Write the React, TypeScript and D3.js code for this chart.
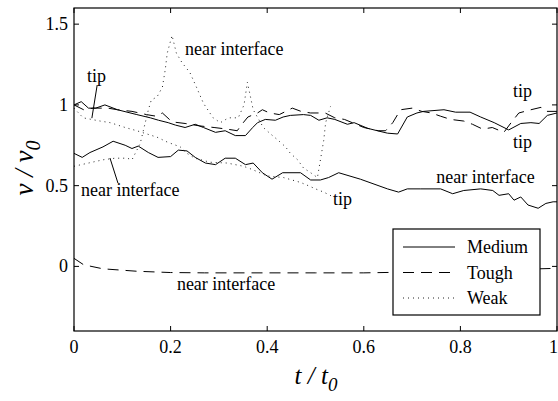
import React from "react";
import * as d3 from "d3";

// [t/t0, v/v0] pairs
const mediumTip: [number, number][] = [
  [0, 1.0], [0.015, 1.02], [0.03, 0.98], [0.045, 0.98], [0.064, 1.0], [0.09, 0.97],
  [0.13, 0.94], [0.158, 0.92], [0.175, 0.905], [0.195, 0.89], [0.21, 0.875], [0.23, 0.86],
  [0.251, 0.88], [0.268, 0.86], [0.293, 0.83], [0.313, 0.84], [0.334, 0.81], [0.355, 0.81],
  [0.37, 0.86], [0.38, 0.89], [0.396, 0.91], [0.417, 0.905], [0.433, 0.925], [0.448, 0.935],
  [0.475, 0.94], [0.49, 0.935], [0.507, 0.905], [0.524, 0.92], [0.54, 0.91], [0.566, 0.88],
  [0.58, 0.89], [0.608, 0.855], [0.628, 0.84], [0.649, 0.825], [0.67, 0.82], [0.69, 0.925],
  [0.71, 0.95], [0.724, 0.96], [0.766, 0.97], [0.79, 0.955], [0.82, 0.955], [0.842, 0.925],
  [0.87, 0.89], [0.9, 0.845], [0.925, 0.885], [0.946, 0.89], [0.963, 0.885], [0.98, 0.935],
  [1.0, 0.95],
];

const mediumInterface: [number, number][] = [
  [0, 0.7], [0.017, 0.675], [0.033, 0.705], [0.06, 0.74], [0.081, 0.775], [0.106, 0.75],
  [0.12, 0.73], [0.133, 0.745], [0.154, 0.705], [0.174, 0.675], [0.2, 0.68], [0.216, 0.72],
  [0.234, 0.715], [0.251, 0.675], [0.272, 0.64], [0.293, 0.63], [0.313, 0.67], [0.334, 0.67],
  [0.355, 0.63], [0.371, 0.64], [0.39, 0.58], [0.41, 0.54], [0.432, 0.58], [0.469, 0.58],
  [0.49, 0.535], [0.51, 0.535], [0.527, 0.55], [0.548, 0.58], [0.593, 0.54], [0.649, 0.48],
  [0.672, 0.46], [0.69, 0.48], [0.718, 0.48], [0.759, 0.48], [0.784, 0.45], [0.807, 0.47],
  [0.842, 0.48], [0.867, 0.47], [0.88, 0.44], [0.9, 0.45], [0.911, 0.41], [0.925, 0.43],
  [0.94, 0.38], [0.961, 0.36], [0.977, 0.39], [0.992, 0.4], [1.0, 0.4],
];

const toughTip: [number, number][] = [
  [0, 1.0], [0.02, 0.97], [0.04, 0.98], [0.07, 0.98], [0.09, 0.97], [0.12, 0.96],
  [0.15, 0.94], [0.17, 0.93], [0.183, 0.95], [0.203, 0.895], [0.23, 0.885], [0.26, 0.87],
  [0.29, 0.86], [0.317, 0.85], [0.338, 0.84], [0.345, 0.87], [0.36, 0.925], [0.38, 0.95],
  [0.39, 0.97], [0.405, 0.95], [0.425, 0.94], [0.452, 0.98], [0.47, 0.96], [0.49, 0.95],
  [0.52, 0.95], [0.54, 0.92], [0.56, 0.91], [0.6, 0.86], [0.63, 0.84], [0.645, 0.84],
  [0.66, 0.89], [0.676, 0.97], [0.7, 0.98], [0.72, 0.96], [0.74, 0.95], [0.759, 0.93],
  [0.78, 0.91], [0.807, 0.9], [0.825, 0.88], [0.846, 0.85], [0.866, 0.86], [0.89, 0.83],
  [0.905, 0.89], [0.921, 0.95], [0.946, 0.97], [0.967, 0.985], [0.977, 0.96], [1.0, 0.96],
];

const toughInterface: [number, number][] = [
  [0, 0.05], [0.02, 0.01], [0.06, -0.015], [0.13, -0.03], [0.2, -0.038], [0.27, -0.04],
  [0.4, -0.04], [0.5, -0.04], [0.6, -0.04], [0.7, -0.035], [0.8, -0.03], [0.9, -0.02],
  [1.0, -0.012],
];

const weakTip: [number, number][] = [
  [0, 0.98], [0.019, 0.92], [0.054, 0.9], [0.075, 0.89], [0.106, 0.86], [0.13, 0.84],
  [0.151, 0.82], [0.172, 0.8], [0.193, 0.77], [0.22, 0.74], [0.234, 0.7], [0.25, 0.67],
  [0.282, 0.645], [0.317, 0.64], [0.351, 0.62], [0.369, 0.6], [0.4, 0.56], [0.434, 0.55],
  [0.469, 0.52], [0.485, 0.5], [0.5, 0.48], [0.517, 0.46], [0.537, 0.43],
];

const weakInterface: [number, number][] = [
  [0, 0.62], [0.03, 0.64], [0.06, 0.66], [0.085, 0.67], [0.11, 0.67], [0.12, 0.66],
  [0.137, 0.76], [0.154, 0.97], [0.16, 1.03], [0.172, 1.05], [0.183, 1.11], [0.189, 1.22],
  [0.193, 1.32], [0.203, 1.43], [0.212, 1.32], [0.224, 1.26], [0.24, 1.2], [0.255, 1.1],
  [0.268, 1.01], [0.288, 0.92], [0.303, 0.89], [0.32, 0.92], [0.34, 0.92], [0.352, 1.0],
  [0.359, 1.14], [0.371, 0.97], [0.392, 0.86], [0.407, 0.82], [0.423, 0.78], [0.438, 0.74],
  [0.448, 0.7], [0.463, 0.66], [0.475, 0.61], [0.49, 0.58], [0.504, 0.55], [0.517, 0.78],
  [0.521, 0.89], [0.531, 0.99],
];

const xTicks = [0, 0.2, 0.4, 0.6, 0.8, 1];
const yTicks = [0, 0.5, 1, 1.5];
const legendNames = ["Medium", "Tough", "Weak"];

// annotation text and leader lines, in data units
const labels = [
  { text: "tip", t: 0.027, v: 1.14 },
  { text: "near interface", t: 0.23, v: 1.31 },
  { text: "near interface", t: 0.0145, v: 0.436 },
  { text: "tip", t: 0.536, v: 0.38 },
  { text: "tip", t: 0.909, v: 1.05 },
  { text: "tip", t: 0.909, v: 0.733 },
  { text: "near interface", t: 0.75, v: 0.516 },
  { text: "near interface", t: 0.213, v: -0.146 },
];
const leaders = [
  [[0.048, 1.123], [0.037, 0.918]],
  [[0.0745, 0.671], [0.091, 0.516]],
];

const FONT = "Liberation Serif";
const DASH = "11,7";
const DOT = "1,4";

const width = 558;
const height = 401;
const margin = { top: 8, right: 1, bottom: 70, left: 74 };

const App: React.FC = () => {
  const x = d3.scaleLinear().domain([0, 1]).range([margin.left, width - margin.right]);
  const y = d3.scaleLinear().domain([-0.4, 1.6]).range([height - margin.bottom, margin.top]);
  const line = d3.line<[number, number]>().x(d => x(d[0])).y(d => y(d[1]));

  const series = [
    { data: mediumTip, dash: undefined },
    { data: mediumInterface, dash: undefined },
    { data: toughTip, dash: DASH },
    { data: toughInterface, dash: DASH },
    { data: weakTip, dash: DOT },
    { data: weakInterface, dash: DOT },
  ];
  const dashes = [undefined, DASH, DOT];
  const txt = { fontFamily: FONT, fontSize: "18px" };
  const [x0, x1] = x.range();
  const [y0, y1] = y.range();

  return (
    <svg width={width} height={height}
      style={{ position: "absolute", left: 0, top: 0, background: "#fff" }}>
      {series.map((s, i) => (
        <path key={i} d={line(s.data) ?? ""} fill="none"
          stroke={s.dash === DOT ? "#222" : "#000"} strokeWidth={1}
          strokeDasharray={s.dash} />
      ))}

      {/* box with inward ticks */}
      <rect x={x0} y={y1} width={x1 - x0} height={y0 - y1} fill="none" stroke="#000" strokeWidth={1.2} />
      {xTicks.map(t => (
        <g key={"x" + t}>
          <line x1={x(t)} x2={x(t)} y1={y0} y2={y0 - 5} stroke="#000" />
          <line x1={x(t)} x2={x(t)} y1={y1} y2={y1 + 5} stroke="#000" />
          <text x={t === 1 ? width : x(t)} y={y0 + 22} textAnchor={t === 1 ? "end" : "middle"} style={txt}>
            {String(t)}
          </text>
        </g>
      ))}
      {yTicks.map(v => (
        <g key={"y" + v}>
          <line x1={x0} x2={x0 + 5} y1={y(v)} y2={y(v)} stroke="#000" />
          <line x1={x1} x2={x1 - 5} y1={y(v)} y2={y(v)} stroke="#000" />
          <text x={x0 - 6} y={y(v) + 6} textAnchor="end" style={txt}>{String(v)}</text>
        </g>
      ))}

      {/* annotations */}
      {labels.map((l, i) => (
        <text key={"l" + i} x={x(l.t)} y={y(l.v)} style={txt}>{l.text}</text>
      ))}
      {leaders.map((p, i) => (
        <line key={"p" + i} x1={x(p[0][0])} y1={y(p[0][1])} x2={x(p[1][0])} y2={y(p[1][1])} stroke="#000" />
      ))}

      {/* legend */}
      <g transform="translate(393, 229)">
        <rect width={147} height={86} fill="#fff" stroke="#000" strokeWidth={1.2} />
        {legendNames.map((name, i) => {
          const ly = 18 + i * 25.5;
          return (
            <g key={name}>
              <line x1={10} x2={62} y1={ly} y2={ly} stroke={i === 2 ? "#222" : "#000"}
                strokeDasharray={dashes[i]} />
              <text x={74} y={ly + 6} style={txt}>{name}</text>
            </g>
          );
        })}
      </g>

      {/* axis titles */}
      <text x={316} y={384} textAnchor="middle"
        style={{ fontFamily: FONT, fontSize: "25px", fontStyle: "italic" }}>
        t / t<tspan dy={7} style={{ fontSize: "19px" }}>0</tspan>
      </text>
      <text transform="translate(33, 168) rotate(-90)" textAnchor="middle"
        style={{ fontFamily: FONT, fontSize: "27px", fontStyle: "italic" }}>
        v / v<tspan dy={7} style={{ fontSize: "20px" }}>0</tspan>
      </text>
    </svg>
  );
};

export default App;
